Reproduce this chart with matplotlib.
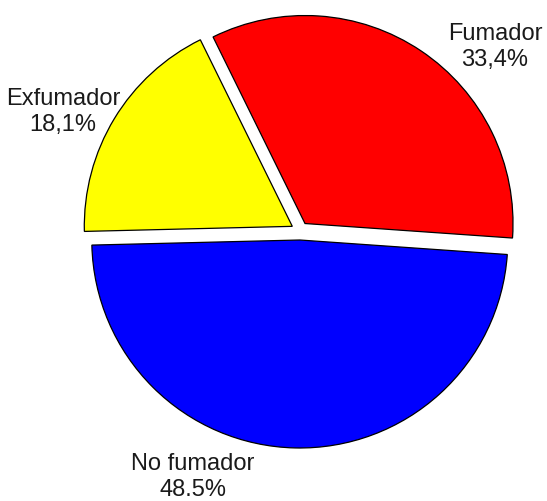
import matplotlib.pyplot as plt

# datos
categorias = ["Fumador", "Exfumador", "No fumador"]
porcentajes = [33.4, 18.1, 48.5]
etiquetas = ["Fumador\n33,4%", "Exfumador\n18,1%", "No fumador\n48.5%"]
colores = ["#ff0000", "#ffff00", "#0000ff"]

plt.rcParams['font.family'] = ['Liberation Sans', 'DejaVu Sans']

fig = plt.figure(figsize=(5.47, 5.01), dpi=100)
ax = fig.add_axes([0, 0, 1, 1])

# ejes en pixeles (1 unidad = 1 px)
ax.pie(porcentajes, colors=colores, startangle=-4, counterclock=True,
       center=(300, 270), radius=208, explode=[9, 9, 9],
       wedgeprops=dict(edgecolor="black", linewidth=0.9))
ax.set_xlim(0, 547)
ax.set_ylim(0, 501)
ax.set_aspect("equal")
ax.axis("off")

# posiciones de etiquetas
pos = [(495, 454), (63, 389), (193, 24)]
for txt, (x, y) in zip(etiquetas, pos):
    ax.text(x, y, txt, ha="center", va="center", multialignment="center",
            fontsize=17, color="#1a1a1a", linespacing=1.2)

fig.savefig("out.png", dpi=100)
